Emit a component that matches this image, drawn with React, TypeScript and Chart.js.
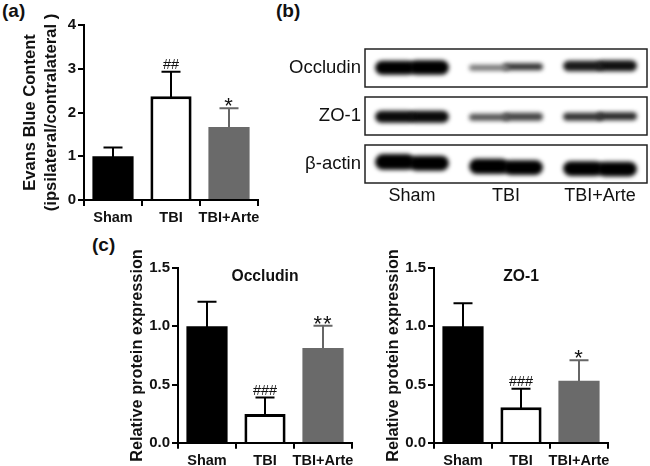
import React, { useEffect, useRef } from "react";
import Chart from "chart.js/auto";

const groups = ["Sham", "TBI", "TBI+Arte"];

const evansValues = [1.0, 2.37, 1.67];
const evansErrorTops = [1.2, 2.93, 2.1];
const evansMarks = ["", "##", "*"];

const occludinValues = [1.0, 0.248, 0.815];
const occludinErrorTops = [1.21, 0.39, 1.006];
const occludinMarks = ["", "###", "**"];

const zo1Values = [1.0, 0.306, 0.534];
const zo1ErrorTops = [1.197, 0.466, 0.71];
const zo1Marks = ["", "###", "*"];

// Blot band extents (low, high) in each lane, left and right lobe
const occludinLeftLobe = [[12, 26], [16, 22], [15.5, 26]];
const occludinRightLobe = [[12, 26.5], [16.5, 23.5], [15.5, 26.5]];
const zo1LeftLobe = [[12, 24], [14, 21], [14, 22]];
const zo1RightLobe = [[12, 24], [14, 22], [14.5, 22.5]];
const actinLeftLobe = [[13, 28.5], [9, 24], [7, 21.5]];
const actinRightLobe = [[12, 27], [8, 22.5], [6.5, 21]];

const occludinLeftShade = ["#000", "#777", "#1a1a1a"];
const occludinRightShade = ["#000", "#333", "#111"];
const zo1LeftShade = ["#0a0a0a", "#555", "#333"];
const zo1RightShade = ["#0a0a0a", "#444", "#2a2a2a"];
const actinLeftShade = ["#000", "#000", "#000"];
const actinRightShade = ["#000", "#000", "#000"];

const FONT = "'Liberation Sans', Arial, sans-serif";
const TEXT = "#111";
const BAR_FILL = ["#000000", "#ffffff", "#6a6a6a"];
const BAR_EDGE = ["#000000", "#000000", "#6a6a6a"];
const BAR_EDGE_W = [0, 3, 0];
const ERR_COLOR = ["#000000", "#000000", "#666666"];

const errorBars = {
  id: "errorBars",
  beforeDatasetsDraw(chart: any, _a: any, opts: any) {
    const { ctx } = chart;
    const y = chart.scales.y;
    chart.getDatasetMeta(0).data.forEach((el: any, i: number) => {
      const top = y.getPixelForValue(opts.tops[i]);
      ctx.save();
      ctx.strokeStyle = ERR_COLOR[i];
      ctx.lineWidth = 2;
      ctx.beginPath();
      ctx.moveTo(el.x, el.y + 2);
      ctx.lineTo(el.x, top);
      ctx.moveTo(el.x - 9.5, top);
      ctx.lineTo(el.x + 9.5, top);
      ctx.stroke();
      ctx.restore();
    });
  },
  afterDatasetsDraw(chart: any, _a: any, opts: any) {
    const { ctx } = chart;
    const y = chart.scales.y;
    chart.getDatasetMeta(0).data.forEach((el: any, i: number) => {
      const mark = opts.marks[i];
      if (!mark) return;
      const top = y.getPixelForValue(opts.tops[i]);
      const star = mark[0] === "*";
      ctx.save();
      ctx.fillStyle = "#111";
      ctx.textAlign = "center";
      ctx.textBaseline = "alphabetic";
      ctx.font = star ? `22px ${FONT}` : `14.5px ${FONT}`;
      if (star) (ctx as any).letterSpacing = "1px";
      ctx.fillText(mark, el.x, star ? top + 5 : top - 3);
      ctx.restore();
    });
  },
};

const blurBands = {
  id: "blurBands",
  beforeDatasetsDraw(chart: any) {
    chart.ctx.save();
    chart.ctx.filter = "blur(2px)";
  },
  afterDatasetsDraw(chart: any) {
    chart.ctx.restore();
    const { ctx, chartArea: a } = chart;
    ctx.save();
    ctx.strokeStyle = "#222";
    ctx.lineWidth = 1.5;
    ctx.strokeRect(a.left, a.top, a.right - a.left, a.bottom - a.top);
    ctx.restore();
  },
};

function BarPanel(props: any) {
  const { left, top, width, height, axisLeft, axisRight, axisTop, axisBottom, values, errorTops, marks, yMax, yStep, decimals, yTitle, titlePad, title, titleFont } = props;
  const ref = useRef<HTMLCanvasElement>(null);
  useEffect(() => {
    const chart = new Chart(ref.current as any, {
      type: "bar",
      data: {
        labels: groups,
        datasets: [
          {
            data: values,
            backgroundColor: BAR_FILL,
            borderColor: BAR_EDGE,
            borderWidth: BAR_EDGE_W,
            borderSkipped: "bottom",
            barPercentage: 0.71,
            categoryPercentage: 1,
          },
        ],
      } as any,
      options: {
        responsive: false,
        animation: false,
        layout: { padding: { left: 0, right: width - axisRight, top: axisTop, bottom: 0 } },
        plugins: {
          legend: { display: false },
          tooltip: { enabled: false },
          title: title
            ? {
                display: true,
                text: title,
                fullSize: false,
                color: TEXT,
                font: { family: FONT, size: 15.7, weight: "bold", lineHeight: 1.2 },
                padding: { top: -1, bottom: -18 },
              }
            : { display: false },
          errorBars: { tops: errorTops, marks },
        },
        scales: {
          x: {
            grid: { drawOnChartArea: false, color: "#000", lineWidth: 2, tickLength: 6 },
            border: { color: "#000", width: 2 },
            ticks: { color: TEXT, padding: 3, maxRotation: 0, autoSkip: false, font: { family: FONT, size: 14.5, weight: "bold" } },
            afterFit: (s: any) => { s.height = height - axisBottom; },
          },
          y: {
            min: 0,
            max: yMax,
            grid: { drawOnChartArea: false, color: "#000", lineWidth: 2, tickLength: 6 },
            border: { color: "#000", width: 2 },
            ticks: {
              stepSize: yStep,
              color: TEXT,
              padding: 2,
              font: { family: FONT, size: 15, weight: "bold" },
              callback: (v: any) => Number(v).toFixed(decimals),
            },
            title: {
              display: true,
              text: yTitle,
              color: TEXT,
              font: { family: FONT, size: titleFont, weight: "bold", lineHeight: 1.25 },
              padding: { top: titlePad, bottom: 0 },
            },
            afterFit: (s: any) => { s.width = axisLeft; },
          },
        },
      } as any,
      plugins: [errorBars],
    });
    return () => chart.destroy();
  }, []);
  return <canvas ref={ref} width={width} height={height} style={{ position: "absolute", left, top, width, height }} />;
}

function BlotRow(props: any) {
  const { top, name, leftLobe, rightLobe, leftShade, rightShade, showLanes } = props;
  const ref = useRef<HTMLCanvasElement>(null);
  const panelH = 38;
  const height = panelH + (showLanes ? 30 : 2);
  const width = 380;
  useEffect(() => {
    const chart = new Chart(ref.current as any, {
      type: "bar",
      data: {
        labels: groups,
        datasets: [
          { data: leftLobe, backgroundColor: leftShade, borderRadius: 9, borderSkipped: false, barPercentage: 1.18, categoryPercentage: 0.72 },
          { data: rightLobe, backgroundColor: rightShade, borderRadius: 9, borderSkipped: false, barPercentage: 1.18, categoryPercentage: 0.72 },
        ],
      } as any,
      options: {
        responsive: false,
        animation: false,
        layout: { autoPadding: false, padding: { left: 0, right: 3, top: 1, bottom: showLanes ? 0 : 1 } },
        plugins: { legend: { display: false }, tooltip: { enabled: false } },
        scales: {
          x: {
            display: !!showLanes,
            grid: { display: false, drawTicks: false },
            border: { display: false },
            ticks: { color: TEXT, padding: 2, maxRotation: 0, autoSkip: false, font: { family: FONT, size: 18 } },
            afterFit: (s: any) => { s.height = showLanes ? 29 : 0; s.paddingLeft = 0; s.paddingRight = 0; },
          },
          y: {
            min: 0,
            max: 37.5,
            grid: { display: false, drawTicks: false },
            border: { display: false },
            afterBuildTicks: (s: any) => { s.ticks = [{ value: 18.75 }]; },
            ticks: { color: TEXT, padding: 4, autoSkip: false, font: { family: FONT, size: 18.5 }, callback: () => name },
            afterFit: (s: any) => { s.width = 95; s.paddingTop = 0; s.paddingBottom = 0; },
          },
        },
      } as any,
      plugins: [blurBands],
    });
    return () => chart.destroy();
  }, []);
  return <canvas ref={ref} width={width} height={height} style={{ position: "absolute", left: 270, top, width, height }} />;
}

const tagStyle = (left: number, top: number): React.CSSProperties => ({
  position: "absolute",
  left,
  top,
  font: `bold 19px ${FONT}`,
  color: TEXT,
  lineHeight: "22px",
});

export default function App() {
  return (
    <div style={{ position: "absolute", left: 0, top: 0, width: 650, height: 466, background: "#fff", overflow: "hidden" }}>
      <div style={tagStyle(2, 0)}>(a)</div>
      <div style={tagStyle(276, 0)}>(b)</div>
      <div style={tagStyle(92, 234)}>(c)</div>
      <BarPanel left={0} top={0} width={268} height={235} axisLeft={84} axisRight={258} axisTop={25} axisBottom={200}
        values={evansValues} errorTops={evansErrorTops} marks={evansMarks} yMax={4} yStep={1} decimals={0}
        yTitle={["Evans Blue Content", "(ipsilateral/contralateral )"]} titlePad={20} titleFont={16.6} />
      <BlotRow top={48} name="Occludin" leftLobe={occludinLeftLobe} rightLobe={occludinRightLobe} leftShade={occludinLeftShade} rightShade={occludinRightShade} />
      <BlotRow top={96} name="ZO-1" leftLobe={zo1LeftLobe} rightLobe={zo1RightLobe} leftShade={zo1LeftShade} rightShade={zo1RightShade} />
      <BlotRow top={144} name="β-actin" leftLobe={actinLeftLobe} rightLobe={actinRightLobe} leftShade={actinLeftShade} rightShade={actinRightShade} showLanes />
      <BarPanel left={120} top={230} width={240} height={236} axisLeft={58} axisRight={232} axisTop={38} axisBottom={213}
        values={occludinValues} errorTops={occludinErrorTops} marks={occludinMarks} yMax={1.5} yStep={0.5} decimals={1}
        yTitle="Relative protein expression" titlePad={7} titleFont={16.3} title="Occludin" />
      <BarPanel left={362} top={230} width={288} height={236} axisLeft={72} axisRight={246} axisTop={38} axisBottom={213}
        values={zo1Values} errorTops={zo1ErrorTops} marks={zo1Marks} yMax={1.5} yStep={0.5} decimals={1}
        yTitle="Relative protein expression" titlePad={21} titleFont={16.3} title="ZO-1" />
    </div>
  );
}
